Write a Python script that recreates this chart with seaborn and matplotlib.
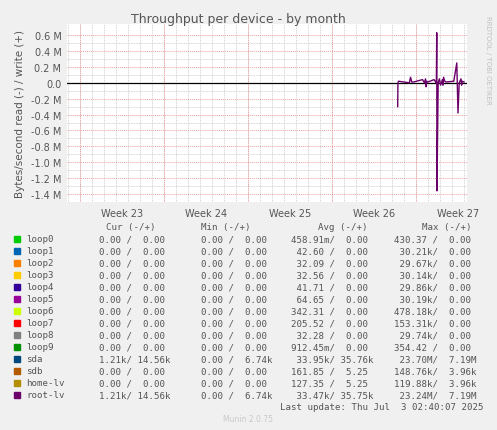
import matplotlib
matplotlib.use("Agg")
import matplotlib.pyplot as plt
import numpy as np
import pandas as pd
import seaborn as sns

# root-lv throughput, x in days from left edge, value in M (write +, read -)
days = [27.53, 27.55, 27.6, 28.5, 28.6, 28.7, 28.85, 29.6, 29.75, 29.85, 29.9, 29.95, 30.05,
        30.55, 30.7, 30.75, 30.78, 30.8, 30.9, 31.0, 31.1, 31.25, 31.3, 31.35, 31.45, 31.55,
        32.2, 32.45, 32.55, 32.65, 32.8, 32.85, 32.9, 33.05]
root_lv = [-0.30, 0.0, 0.02, 0.0, 0.07, 0.01, 0.01, 0.04, 0.0, 0.05, -0.05, 0.02, 0.01,
           0.04, 0.01, 0.0, 0.63, -1.36, 0.0, 0.05, -0.03, 0.04, -0.03, 0.07, 0.02, 0.01,
           0.02, 0.25, -0.38, 0.0, 0.05, -0.03, 0.02, 0.01]

week_labels = ["Week 23", "Week 24", "Week 25", "Week 26", "Week 27"]
week_starts = [1.08, 8.08, 15.08, 22.08, 29.08]

names = ["loop0", "loop1", "loop2", "loop3", "loop4", "loop5", "loop6", "loop7",
         "loop8", "loop9", "sda", "sdb", "home-lv", "root-lv"]
colors = ["#00CC00", "#0066B3", "#FF8000", "#FFCC00", "#330099", "#990099", "#CCFF00",
          "#FF0000", "#808080", "#008F00", "#00487D", "#B35A00", "#B38F00", "#6B006B"]
cur = ["0.00 /  0.00"] * 10 + ["1.21k/ 14.56k", "0.00 /  0.00", "0.00 /  0.00", "1.21k/ 14.56k"]
mins = ["0.00 /  0.00"] * 10 + ["0.00 /  6.74k", "0.00 /  0.00", "0.00 /  0.00", "0.00 /  6.74k"]
avgs = ["458.91m/  0.00", " 42.60 /  0.00", " 32.09 /  0.00", " 32.56 /  0.00",
        " 41.71 /  0.00", " 64.65 /  0.00", "342.31 /  0.00", "205.52 /  0.00",
        " 32.28 /  0.00", "912.45m/  0.00", " 33.95k/ 35.76k", "161.85 /  5.25",
        "127.35 /  5.25", " 33.47k/ 35.75k"]
maxs = ["430.37 /  0.00", " 30.21k/  0.00", " 29.67k/  0.00", " 30.14k/  0.00",
        " 29.86k/  0.00", " 30.19k/  0.00", "478.18k/  0.00", "153.31k/  0.00",
        " 29.74k/  0.00", "354.42 /  0.00", " 23.70M/  7.19M", "148.76k/  3.96k",
        "119.88k/  3.96k", " 23.24M/  7.19M"]

W, H = 497, 431
fig = plt.figure(figsize=(W / 100, H / 100), dpi=100, facecolor="#F0F0F0")
ax = fig.add_axes([67 / W, 1 - 203 / H, 400 / W, 178 / H])
ax.set_facecolor("white")

df = pd.DataFrame({"day": days, "val": root_lv})
ax.axhline(0, color="black", lw=0.9, zorder=3)
sns.lineplot(data=df, x="day", y="val", color=colors[-1], lw=1.0, ax=ax, zorder=4)

ax.set_xlim(0, 33.3)
ax.set_ylim(-1.5, 0.74)
yt = np.arange(-1.4, 0.61, 0.2)
ax.set_yticks(yt)
ax.set_yticklabels([("%.1f M" % v).replace("-0.0", "0.0") if abs(v) > 1e-9 else "0.0" for v in yt])
ax.set_yticks(np.arange(-1.5, 0.7, 0.1), minor=True)
ax.set_xticks([s + 3.5 for s in week_starts])
ax.set_xticklabels(week_labels)
ax.set_xticks(np.arange(0.08, 33.3, 1.0), minor=True)
ax.tick_params(which="both", length=0, labelsize=7, colors="#555555", pad=4)
ax.grid(which="minor", color="#C8C8C8", ls=(0, (1, 1)), lw=0.6)
ax.grid(which="major", axis="y", color="#F0A0A0", ls=(0, (1, 1)), lw=0.7)
for s in week_starts:
    ax.axvline(s, color="#F0A0A0", ls=(0, (1, 1)), lw=0.7)
for sp in ax.spines.values():
    sp.set_visible(False)
ax.set_xlabel("")
ax.set_ylabel("Bytes/second read (-) / write (+)", fontsize=7.5, color="#555555")
fig.text(0.5 - 0.02, 1 - 19 / H, "Throughput per device - by month", ha="center", va="center",
         fontsize=9, color="#555555")
fig.text(488 / W, 1 - 60 / H, "RRDTOOL / TOBI OETIKER", rotation=270, ha="center", va="center",
         fontsize=5, color="#C0C0C0")

mono = dict(family="DejaVu Sans Mono", fontsize=6.6, color="#555555", va="center")
hy = 1 - 228 / H
fig.text(106 / W, hy, "Cur (-/+)", **mono)
fig.text(201 / W, hy, "Min (-/+)", **mono)
fig.text(318 / W, hy, "Avg (-/+)", **mono)
fig.text(422 / W, hy, "Max (-/+)", **mono)
for i, n in enumerate(names):
    y = 1 - (240 + 12 * i) / H
    fig.patches.append(plt.Rectangle((14 / W, y - 3 / H), 6 / W, 6 / H, color=colors[i],
                                     transform=fig.transFigure, figure=fig))
    fig.text(26 / W, y, n, **mono)
    fig.text(99 / W, y, cur[i], **mono)
    fig.text(201 / W, y, mins[i], **mono)
    fig.text(291 / W, y, avgs[i], **mono)
    fig.text(394 / W, y, maxs[i], **mono)
fig.text(483 / W, 1 - 408 / H, "Last update: Thu Jul  3 02:40:07 2025", ha="right", **{k: v for k, v in mono.items()})
fig.text(248 / W, 1 - 420 / H, "Munin 2.0.75", ha="center", va="center", fontsize=5.5, color="#C8C8C8")

fig.savefig("out.png", dpi=100, facecolor=fig.get_facecolor())
